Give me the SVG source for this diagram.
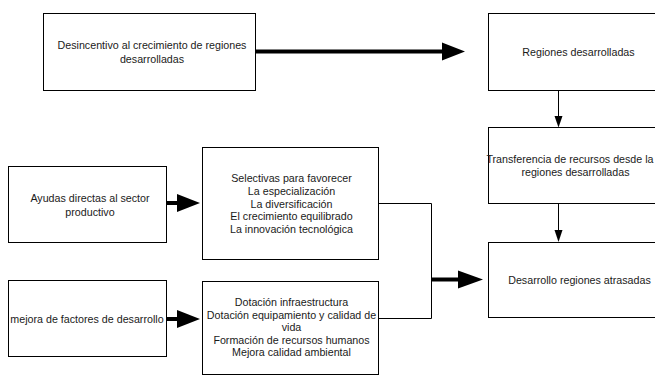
<svg xmlns="http://www.w3.org/2000/svg" width="655" height="375" viewBox="0 0 655 375">
<style>
.box{fill:#fff;stroke:#000;stroke-width:1}
.t{font-family:"Liberation Sans",Arial,sans-serif;font-size:10.7px;fill:#1a1a1a;text-anchor:middle}
.thin{fill:none;stroke:#000;stroke-width:1}
.thick{fill:none;stroke:#000;stroke-width:4}
.head{fill:#000;stroke:none}
</style>
<rect width="655" height="375" fill="#fff"/>
<g id="connectors">
<line class="thick" x1="255" y1="51.5" x2="443" y2="51.5"/>
<polygon class="head" points="442,42.5 465,51.5 442,60.5"/>
<line class="thin" x1="558.5" y1="90.5" x2="558.5" y2="117"/>
<polygon class="head" points="554.5,116 558.5,127.5 562.5,116"/>
<line class="thin" x1="558.5" y1="203.5" x2="558.5" y2="231"/>
<polygon class="head" points="554.5,230 558.5,242 562.5,230"/>
<line class="thick" x1="166" y1="203" x2="178" y2="203"/>
<polygon class="head" points="177,194 200,203 177,212"/>
<line class="thick" x1="166" y1="319" x2="178" y2="319"/>
<polygon class="head" points="177,310 200,319 177,328"/>
<polyline class="thin" points="378.5,203.5 431.5,203.5 431.5,318.5 378.5,318.5"/>
<line class="thick" x1="431" y1="279.5" x2="459" y2="279.5"/>
<polygon class="head" points="458,270.5 483,279.5 458,288.5"/>
</g>
<g id="desincentivo">
<rect class="box" x="43.5" y="13.5" width="212" height="77"/>
<text class="t" x="152" y="49">Desincentivo al crecimiento de regiones</text>
<text class="t" x="152" y="63">desarrolladas</text>
</g>
<g id="regiones-desarrolladas">
<rect class="box" x="488.5" y="13.5" width="200" height="77"/>
<text class="t" x="578.5" y="56">Regiones desarrolladas</text>
</g>
<g id="transferencia">
<rect class="box" x="488.5" y="127.5" width="200" height="76"/>
<text class="t" x="570" y="163">Transferencia de recursos desde la</text>
<text class="t" x="575.5" y="175.5">regiones desarrolladas</text>
</g>
<g id="desarrollo-atrasadas">
<rect class="box" x="488.5" y="242.5" width="200" height="75"/>
<text class="t" x="579.5" y="284">Desarrollo regiones atrasadas</text>
</g>
<g id="ayudas">
<rect class="box" x="8.5" y="166.5" width="158" height="76"/>
<text class="t" x="90" y="202">Ayudas directas al sector</text>
<text class="t" x="90" y="215.5">productivo</text>
</g>
<g id="mejora">
<rect class="box" x="8.5" y="280.5" width="158" height="76"/>
<text class="t" x="87" y="323">mejora de factores de desarrollo</text>
</g>
<g id="selectivas">
<rect class="box" x="202.5" y="147.5" width="176" height="112"/>
<text class="t" x="291.5" y="182">Selectivas para favorecer</text>
<text class="t" x="291.5" y="195">La especialización</text>
<text class="t" x="291.5" y="207.5">La diversificación</text>
<text class="t" x="291.5" y="220">El crecimiento equilibrado</text>
<text class="t" x="291.5" y="233">La innovación tecnológica</text>
</g>
<g id="dotacion">
<rect class="box" x="202.5" y="281.5" width="176" height="93"/>
<text class="t" x="291.5" y="306">Dotación infraestructura</text>
<text class="t" x="291.5" y="319">Dotación equipamiento y calidad de</text>
<text class="t" x="291.5" y="331">vida</text>
<text class="t" x="291.5" y="344">Formación de recursos humanos</text>
<text class="t" x="291.5" y="356">Mejora calidad ambiental</text>
</g>
</svg>
